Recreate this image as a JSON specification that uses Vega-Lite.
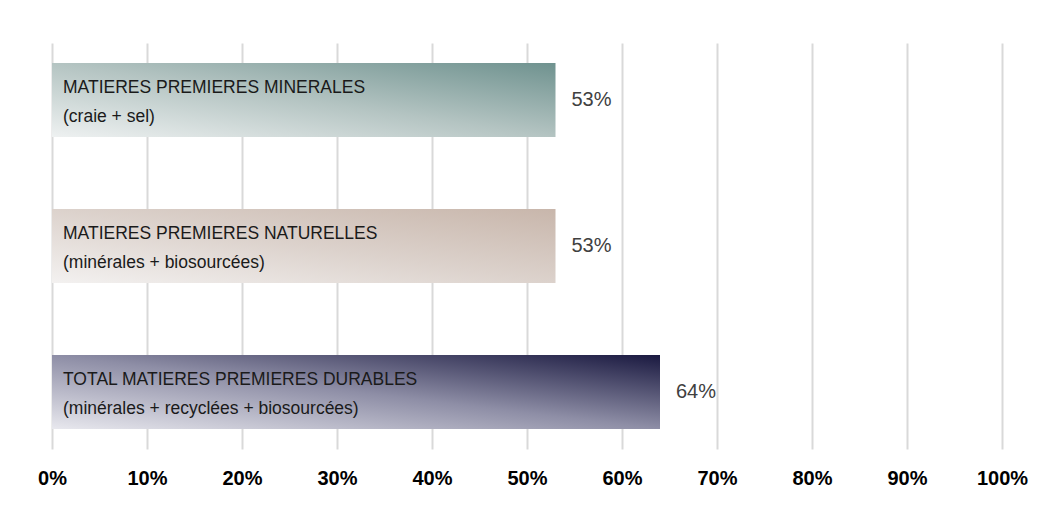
{
  "$schema": "https://vega.github.io/schema/vega-lite/v6.json",
  "autosize": "none",
  "width": 950,
  "height": 406,
  "padding": {"left": 52, "top": 43, "right": 47, "bottom": 56},
  "background": "white",
  "config": {"view": {"stroke": null}, "font": "Liberation Sans"},
  "data": {
    "values": [
      {"cat": "MINERALES", "label": "MATIERES PREMIERES MINERALES\n(craie + sel)", "value": 0.53},
      {"cat": "NATURELLES", "label": "MATIERES PREMIERES NATURELLES\n(minérales + biosourcées)", "value": 0.53},
      {"cat": "TOTAL", "label": "TOTAL MATIERES PREMIERES DURABLES\n(minérales + recyclées + biosourcées)", "value": 0.64}
    ]
  },
  "encoding": {
    "y": {
      "field": "cat", "type": "nominal", "sort": null,
      "scale": {"paddingInner": 0.493, "paddingOuter": 0.137},
      "axis": null
    },
    "x": {
      "field": "value", "type": "quantitative",
      "scale": {"domain": [0, 1], "nice": false},
      "axis": {
        "title": null, "values": [0, 0.1, 0.2, 0.3, 0.4, 0.5, 0.6, 0.7, 0.8, 0.9, 1],
        "format": ".0%", "domain": false, "ticks": false, "tickSize": 0,
        "grid": true, "gridColor": "#d9d9d9", "gridWidth": 2,
        "labelFont": "Liberation Sans", "labelFontSize": 20, "labelFontWeight": "bold",
        "labelColor": "#000000", "labelPadding": 19, "labelFlush": false
      }
    }
  },
  "layer": [
    {
      "transform": [{"filter": "datum.cat === 'MINERALES'"}],
      "mark": {"type": "bar", "color": {"gradient": "linear", "x1": 0, "y1": 1, "x2": 1, "y2": 0,
        "stops": [{"offset": 0, "color": "#eef1f1"}, {"offset": 0.5, "color": "#b4c4c2"}, {"offset": 1, "color": "#6f928f"}]}}
    },
    {
      "transform": [{"filter": "datum.cat === 'NATURELLES'"}],
      "mark": {"type": "bar", "color": {"gradient": "linear", "x1": 0, "y1": 1, "x2": 1, "y2": 0,
        "stops": [{"offset": 0, "color": "#f3f1f0"}, {"offset": 0.5, "color": "#dcd2cc"}, {"offset": 1, "color": "#c8b6ab"}]}}
    },
    {
      "transform": [{"filter": "datum.cat === 'TOTAL'"}],
      "mark": {"type": "bar", "color": {"gradient": "linear", "x1": 0, "y1": 1, "x2": 1, "y2": 0,
        "stops": [{"offset": 0, "color": "#e8e8ee"}, {"offset": 0.5, "color": "#8e8ea6"}, {"offset": 1, "color": "#1a1940"}]}}
    },
    {
      "mark": {"type": "text", "align": "left", "baseline": "middle", "dx": 11, "dy": -12, "lineBreak": "\n",
        "lineHeight": 29, "fontSize": 17.5, "color": "#1a1a1a", "font": "Liberation Sans"},
      "encoding": {
        "x": {"datum": 0},
        "text": {"field": "label"}
      }
    },
    {
      "mark": {"type": "text", "align": "left", "baseline": "middle", "dx": 16,
        "fontSize": 20, "color": "#404040", "font": "Liberation Sans"},
      "encoding": {
        "text": {"field": "value", "format": ".0%"}
      }
    }
  ]
}
